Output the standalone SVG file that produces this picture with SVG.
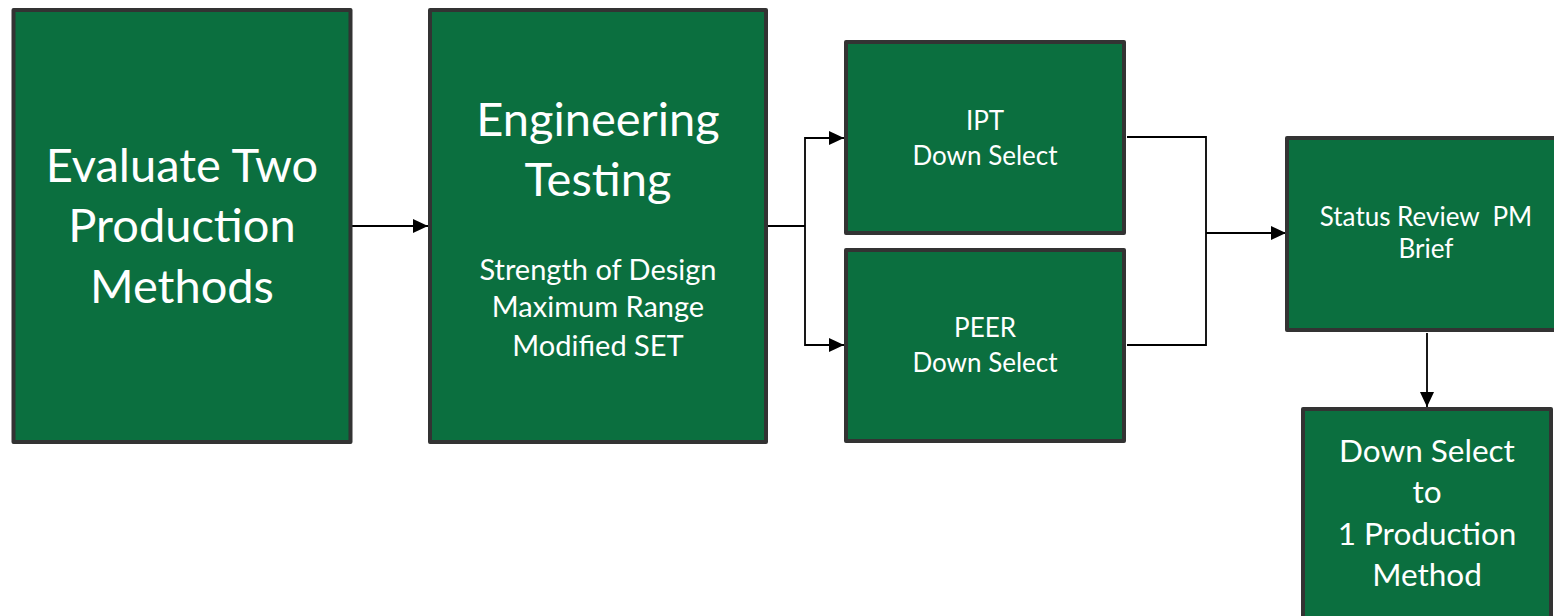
<svg xmlns="http://www.w3.org/2000/svg" width="1554" height="616" viewBox="0 0 1554 616">
<style>
.box{fill:#0B6F3F;stroke:#333333;stroke-width:4;stroke-linejoin:round}
.t{font-family:Lato,"Open Sans",sans-serif;fill:#ffffff;text-anchor:middle}
.c{fill:none;stroke:#000000;stroke-width:1.8}
</style>
<defs>
<marker id="ah" markerWidth="15" markerHeight="14" refX="15" refY="7" orient="auto" markerUnits="userSpaceOnUse" viewBox="0 0 15 14">
<path d="M0,0 L15,7 L0,14 Z" fill="#000000"/>
</marker>
</defs>
<rect width="1554" height="616" fill="#ffffff"/>
<g id="connectors">
<line class="c" x1="352" y1="226" x2="428" y2="226" marker-end="url(#ah)"/>
<polyline class="c" points="768,226 805,226"/>
<polyline class="c" points="830,138 805,138 805,345 830,345"/>
<line class="c" x1="805" y1="138" x2="844" y2="138" marker-end="url(#ah)"/>
<line class="c" x1="805" y1="345" x2="844" y2="345" marker-end="url(#ah)"/>
<polyline class="c" points="1127,137 1206,137 1206,345 1127,345"/>
<line class="c" x1="1206" y1="233" x2="1286" y2="233" marker-end="url(#ah)"/>
<line class="c" x1="1427" y1="333" x2="1427" y2="407" marker-end="url(#ah)"/>
</g>
<g id="n1">
<rect class="box" x="13.5" y="10" width="337" height="432"/>
<text class="t" font-size="47"><tspan x="182" y="182">Evaluate Two</tspan><tspan x="182" y="242">Production</tspan><tspan x="182" y="303">Methods</tspan></text>
</g>
<g id="n2">
<rect class="box" x="430" y="10" width="336" height="432"/>
<text class="t" font-size="47"><tspan x="598" y="136">Engineering</tspan><tspan x="598" y="196">Testing</tspan></text>
<text class="t" font-size="29"><tspan x="598" y="280">Strength of Design</tspan><tspan x="598" y="317">Maximum Range</tspan><tspan x="598" y="356">Modified SET</tspan></text>
</g>
<g id="n3">
<rect class="box" x="846" y="42" width="278" height="191"/>
<text class="t" font-size="26"><tspan x="985" y="130">IPT</tspan><tspan x="985" y="165">Down Select</tspan></text>
</g>
<g id="n4">
<rect class="box" x="846" y="250" width="278" height="191"/>
<text class="t" font-size="26"><tspan x="985" y="337">PEER</tspan><tspan x="985" y="372">Down Select</tspan></text>
</g>
<g id="n5">
<rect class="box" x="1287" y="138" width="280" height="192"/>
<text class="t" font-size="26"><tspan x="1426" y="226" xml:space="preserve">Status Review  PM</tspan><tspan x="1426" y="258">Brief</tspan></text>
</g>
<g id="n6">
<rect class="box" x="1303" y="409" width="248" height="220"/>
<text class="t" font-size="31.5"><tspan x="1427" y="462">Down Select</tspan><tspan x="1427" y="503">to</tspan><tspan x="1427" y="545">1 Production</tspan><tspan x="1427" y="586">Method</tspan></text>
</g>
</svg>
